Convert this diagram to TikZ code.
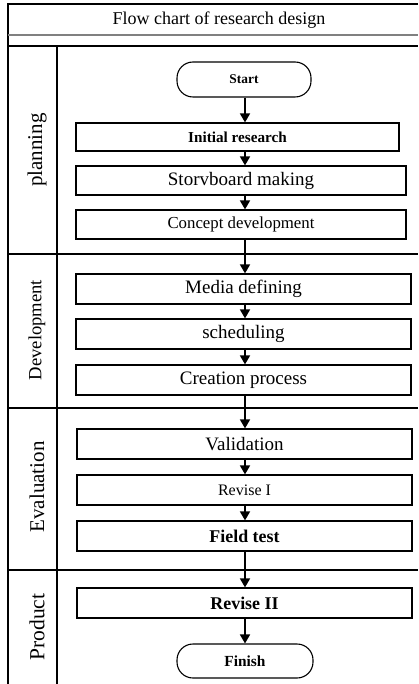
\documentclass[tikz,border=0pt]{standalone}
\usepackage{fontspec}
\setmainfont{Liberation Serif}
\usetikzlibrary{arrows.meta}

\newcommand\ptsize[1]{\fontsize{#1}{#1}\selectfont}

\begin{document}
\begin{tikzpicture}[x=1pt,y=-1pt,
  stepbox/.style={draw,line width=1.2pt,minimum height=29pt,inner sep=0pt},
  endbox/.style={draw,line width=1.1pt,rounded corners=16pt,inner sep=0pt},
  lane/.style={rotate=90,inner sep=0pt},
  frame/.style={line width=1.4pt},
  flow/.style={line width=1.7pt,-{Triangle[width=10pt,length=9pt]}}]

\useasboundingbox (0,0) rectangle (418,684);

% outer frame and swim lanes
\draw[frame] (418,4) -- (8,4) -- (8,684);
\draw[frame,gray] (8,35) -- (418,35);
\draw[frame] (8,46) -- (418,46);
\draw[frame] (57,46) -- (57,684);
\draw[frame] (8,254) -- (418,254);
\draw[frame] (8,408) -- (418,408);
\draw[frame] (8,570) -- (418,570);

\node (title) at (219,20) {\ptsize{18}Flow chart of research design};

\node[lane] (planning) at (37,150) {\ptsize{21}planning};
\node[lane] (develop)  at (37,330) {\ptsize{18.6}Development};
\node[lane] (evaluate) at (37,487) {\ptsize{21}Evaluation};
\node[lane] (product)  at (37,627) {\ptsize{21.5}Product};

\coordinate (spine) at (245,0);

% steps
\node[endbox,minimum width=134pt,minimum height=35pt] (start) at (244,79.5) {\ptsize{13.4}\bfseries Start};
\node[stepbox,minimum width=323pt,minimum height=28pt] (init) at (237.5,137) {\ptsize{15.2}\bfseries Initial research};
\node[stepbox,minimum width=330pt] (story) at (241,180.5) {\ptsize{19}Storvboard making};
\node[stepbox,minimum width=330pt] (concept) at (241,224.5) {\ptsize{16.8}Concept development};

\node[stepbox,minimum width=335pt,minimum height=30pt] (media) at (243.5,289) {\ptsize{19}Media defining};
\node[stepbox,minimum width=335pt,minimum height=30pt] (sched) at (243.5,334) {\ptsize{19}scheduling};
\node[stepbox,minimum width=335pt,minimum height=30pt] (create) at (243.5,380) {\ptsize{19}Creation process};

\node[stepbox,minimum width=335pt,minimum height=30pt] (valid) at (244.5,444) {\ptsize{19}Validation};
\node[stepbox,minimum width=335pt,minimum height=30pt] (rev1) at (244.5,490) {\ptsize{16}Revise I};
\node[stepbox,minimum width=335pt,minimum height=30pt] (field) at (244.5,536) {\ptsize{17.9}\bfseries Field test};

\node[stepbox,minimum width=335pt,minimum height=30pt] (rev2) at (244.5,603) {\ptsize{17.9}\bfseries Revise II};
\node[endbox,minimum width=136pt,minimum height=34pt] (finish) at (245,661) {\ptsize{15.4}\bfseries Finish};

% arrows down the spine
\foreach \a/\b in {start/init,init/story,story/concept,concept/media,
                   media/sched,sched/create,create/valid,valid/rev1,
                   rev1/field,field/rev2,rev2/finish}
  \draw[flow] (\a.south -| spine) -- (\b.north -| spine);
\end{tikzpicture}
\end{document}
